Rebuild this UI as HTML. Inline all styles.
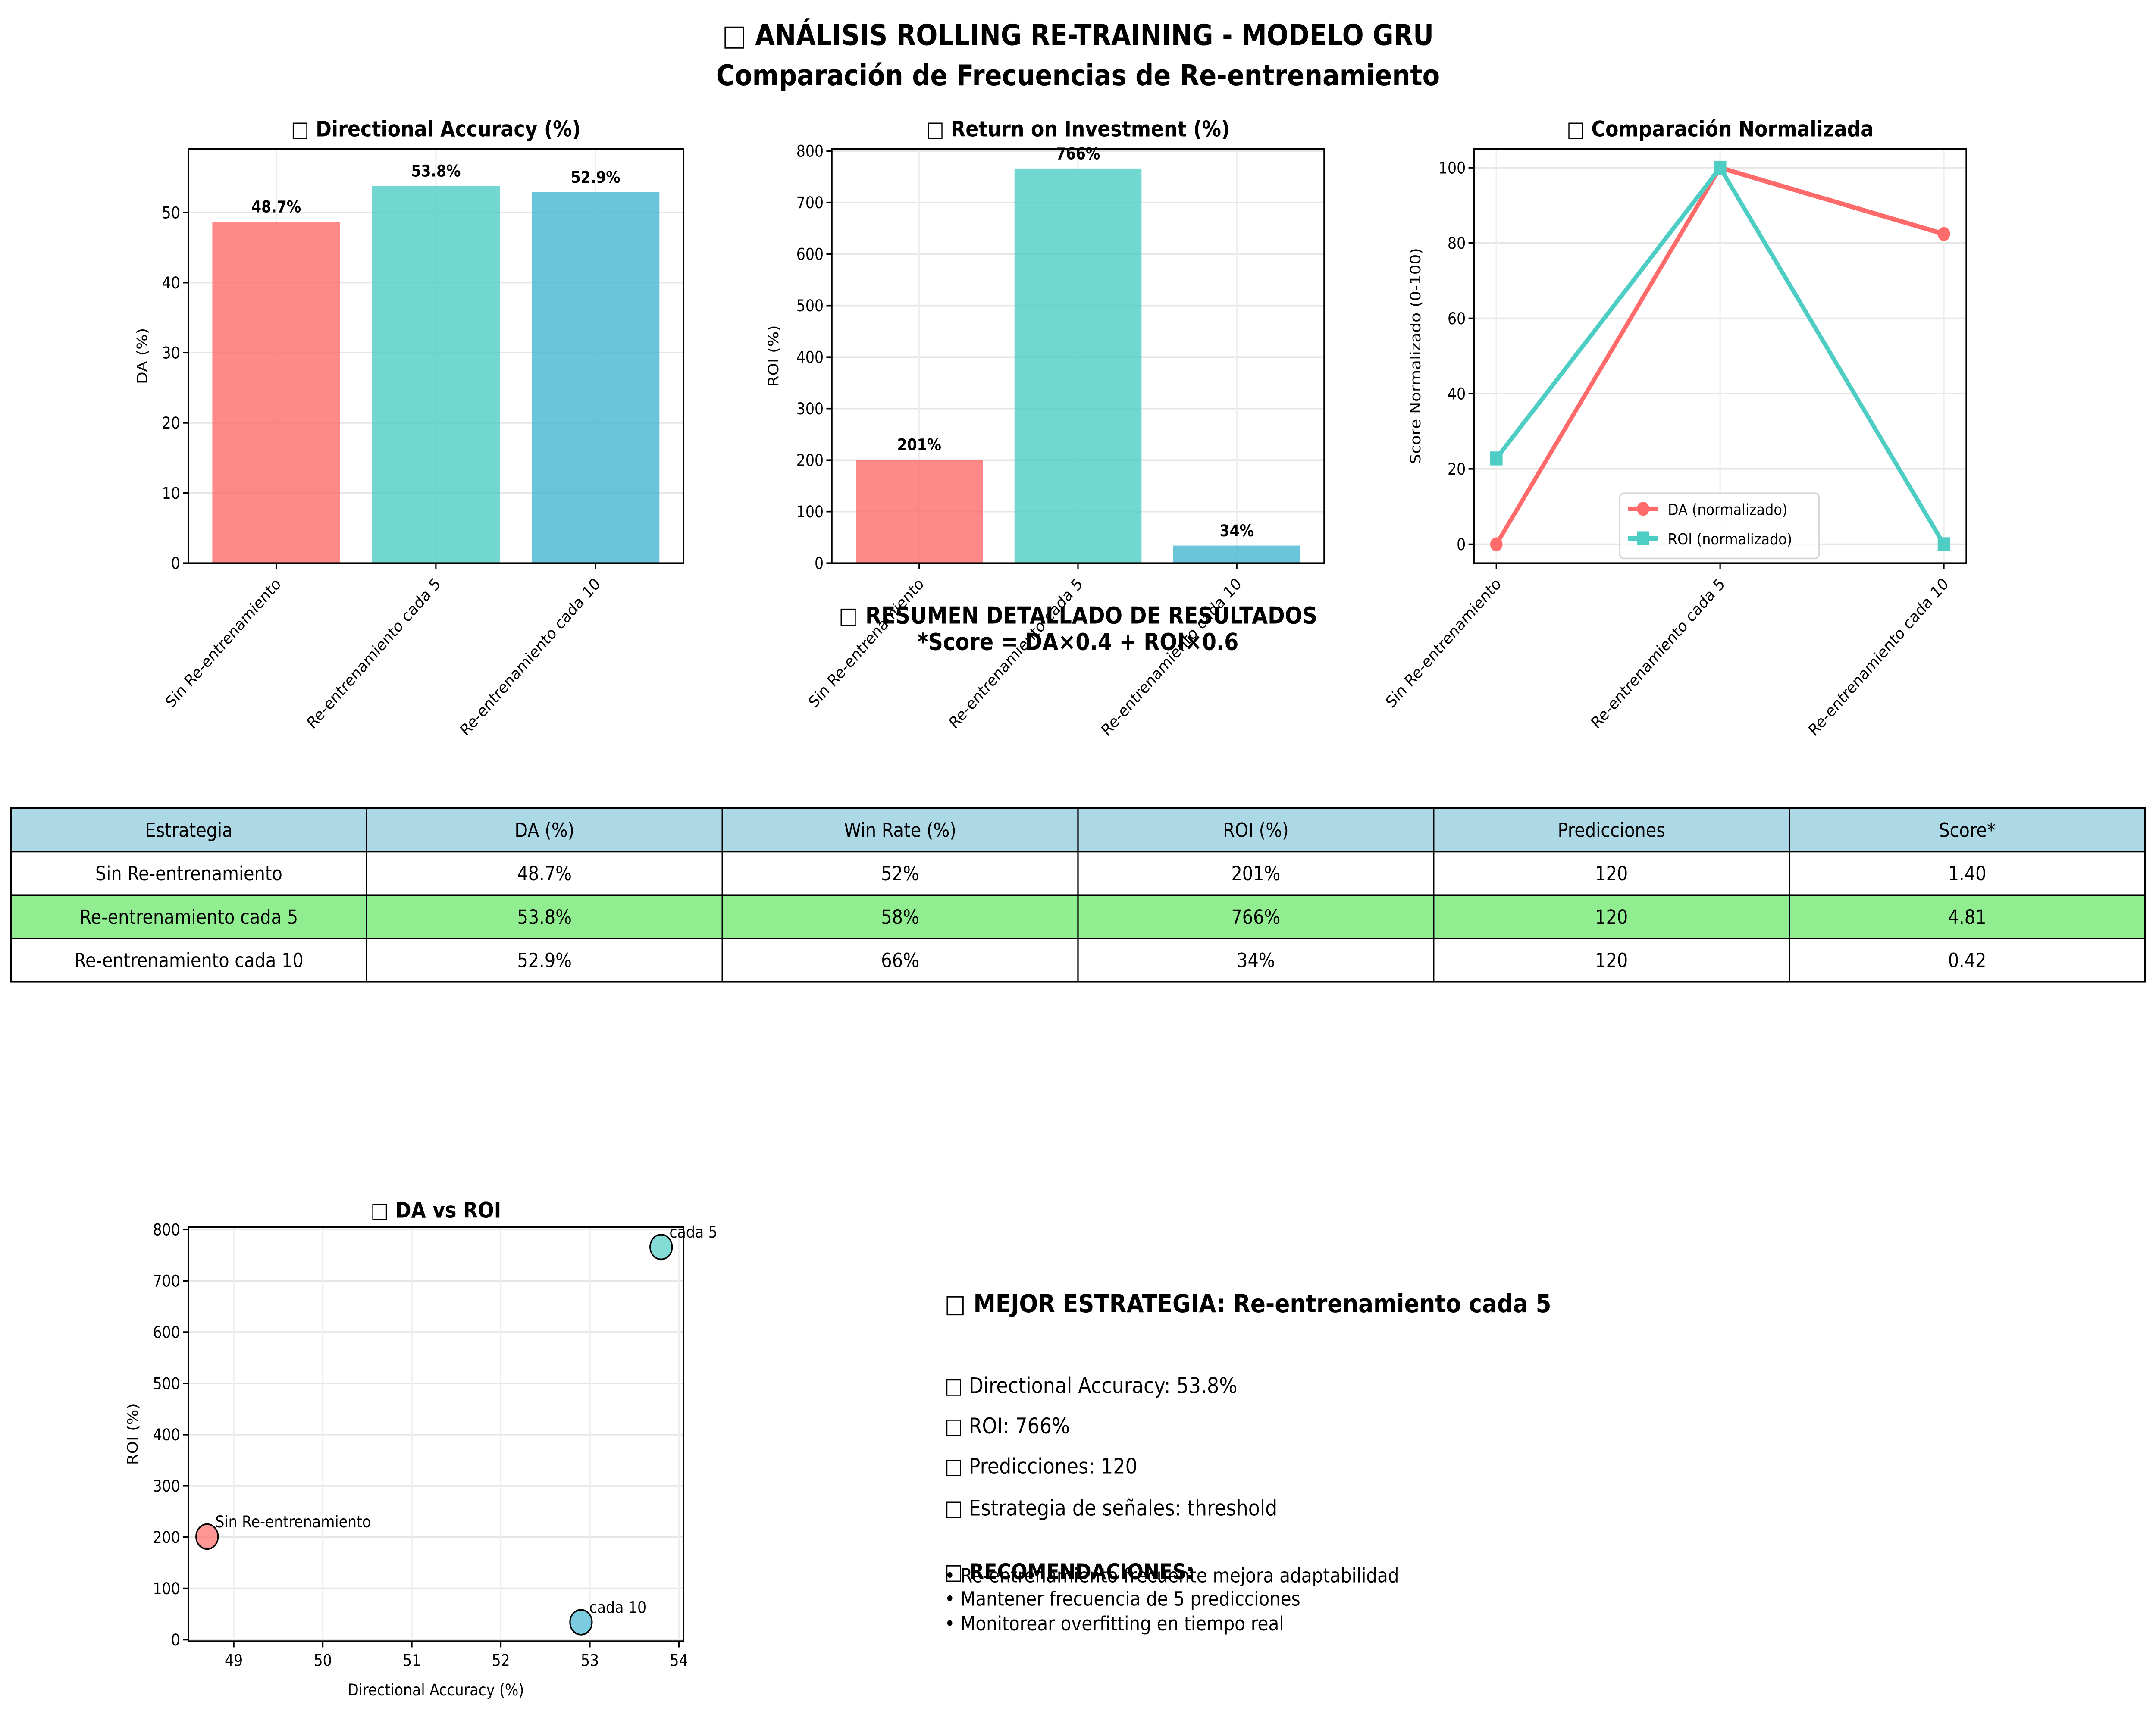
<!DOCTYPE html>
<html><head><meta charset="utf-8"><style>
html,body{margin:0;padding:0;background:#fff;width:100vw;height:100vh;overflow:hidden;}
#wrap{position:fixed;left:0;top:0;width:100vw;height:100vh;overflow:hidden;}
svg{display:block;position:absolute;left:0;top:0;width:100vw;height:100vh;font-family:"DejaVu Sans","Liberation Sans",sans-serif;}
</style></head><body>
<div id="wrap">
<svg id="fig" viewBox="0 0 1568 1103" preserveAspectRatio="none" xmlns="http://www.w3.org/2000/svg">
<rect width="1568" height="1103" fill="#fff"/>
<text x="784" y="29" text-anchor="middle" font-size="18.5" font-weight="bold">□ ANÁLISIS ROLLING RE-TRAINING - MODELO GRU</text>
<text x="784" y="55" text-anchor="middle" font-size="18.5" font-weight="bold">Comparación de Frecuencias de Re-entrenamiento</text>
<g id="c1"></g>
<g id="c2"></g>
<g id="c3"></g>
<g id="tbl"></g>
<g id="c4"></g>
<g>
<text x="687" y="846" font-size="16.2" font-weight="bold">□ MEJOR ESTRATEGIA: Re-entrenamiento cada 5</text>
<text x="687" y="898" font-size="13.9">□ Directional Accuracy: 53.8%</text>
<text x="687" y="924" font-size="13.9">□ ROI: 766%</text>
<text x="687" y="950" font-size="13.9">□ Predicciones: 120</text>
<text x="687" y="977" font-size="13.9">□ Estrategia de señales: threshold</text>
<text x="687" y="1018" font-size="13.9" font-weight="bold">□ RECOMENDACIONES:</text>
<text x="687" y="1020" font-size="12.7">• Re-entrenamiento frecuente mejora adaptabilidad</text>
<text x="687" y="1035" font-size="12.7">• Mantener frecuencia de 5 predicciones</text>
<text x="687" y="1051" font-size="12.7">• Monitorear overfitting en tiempo real</text>
</g>
</svg>
</div>
<script>
const categories=["Sin Re-entrenamiento","Re-entrenamiento cada 5","Re-entrenamiento cada 10"];
const daValues=[48.7,53.8,52.9];
const roiValues=[201,766,34];
const daNorm=[0,100,82.4];
const roiNorm=[22.8,100,0];
const winRates=["52%","58%","66%"];
const predictions=[120,120,120];
const scores=["1.40","4.81","0.42"];
const daLabels=["48.7%","53.8%","52.9%"];
const roiLabels=["201%","766%","34%"];
const scatterLabels=["Sin Re-entrenamiento","cada 5","cada 10"];
const daTicks=[0,10,20,30,40,50];
const roiTicks=[0,100,200,300,400,500,600,700,800];
const normTicks=[0,20,40,60,80,100];
const scatterXTicks=[48,49,50,51,52,53,54];
const colors=["#ff6b6b","#4ecdc4","#45b7d1"];
const NS="http://www.w3.org/2000/svg";
const FT=10.4;
function mk(p,t,a){const e=document.createElementNS(NS,t);for(const k in a)e.setAttribute(k,a[k]);p.appendChild(e);return e;}
function txt(p,x,y,s,a){const e=mk(p,'text',Object.assign({x:x,y:y},a||{}));e.textContent=s;return e;}
function axes(g,L,T,R,B,title,ylabel,ylx){
  const t=txt(g,(L+R)/2,88,title,{'text-anchor':'middle','font-size':13.9,'font-weight':'bold'});
  
  const yl=txt(g,ylx,(T+B)/2,ylabel,{'text-anchor':'middle','font-size':FT,transform:`rotate(-90 ${ylx} ${(T+B)/2})`});
  
}
function frame(g,L,T,R,B){const r=mk(g,'rect',{x:L,y:T,width:R-L,height:B-T,fill:'none',stroke:'#000','stroke-width':1});}
function yTicks(g,L,R,ticks,ys){ticks.forEach(v=>{const y=ys(v);mk(g,'line',{x1:L,x2:R,y1:y,y2:y,stroke:'#e6e6e6','stroke-width':1});mk(g,'line',{x1:L-4,x2:L,y1:y,y2:y,stroke:'#000'});const t=txt(g,L-6,y+3.7,String(v),{'text-anchor':'end','font-size':FT});});}
function xCatTicks(g,B,T,xs){categories.forEach((c,i)=>{const x=xs(i);mk(g,'line',{x1:x,x2:x,y1:T,y2:B,stroke:'#eeeeee'});mk(g,'line',{x1:x,x2:x,y1:B,y2:B+4,stroke:'#000'});const t=txt(g,x+4,B+14,c,{'text-anchor':'end','font-size':FT,transform:`rotate(-45 ${x+4} ${B+14})`});});}
function barChart(id,L,R,vals,labels,ticks,ymax,title,ylabel,ylx){
  const g=document.getElementById(id);const T=96,B=363;
  const ys=v=>B-(v/ymax)*(B-T);const step=(R-L)/3.1;const xs=i=>L+step*(0.55+i);
  axes(g,L,T,R,B,title,ylabel,ylx);yTicks(g,L,R,ticks,ys);xCatTicks(g,B,T,xs);
  vals.forEach((v,i)=>{const bw=step*0.8;const r=mk(g,'rect',{x:xs(i)-bw/2,y:ys(v),width:bw,height:B-ys(v),fill:colors[i],'fill-opacity':0.8});
    const t=txt(g,xs(i),ys(v)-6,labels[i],{'text-anchor':'middle','font-size':FT,'font-weight':'bold'});});
  frame(g,L,T,R,B);
}
barChart('c1',137,497,daValues,daLabels,daTicks,59.07,'□ Directional Accuracy (%)','DA (%)',107);
barChart('c2',605,963,roiValues,roiLabels,roiTicks,804,'□ Return on Investment (%)','ROI (%)',566);
(function(){const g=document.getElementById('c3');const L=1072,R=1430,T=96,B=363;
 const ys=v=>B-((v+5)/110)*(B-T);const step=(R-L)/2.2;const xs=i=>L+step*(0.1+i);
 axes(g,L,T,R,B,'□ Comparación Normalizada','Score Normalizado (0-100)',1033);yTicks(g,L,R,normTicks,ys);xCatTicks(g,B,T,xs);
 const p1=mk(g,'polyline',{points:daNorm.map((v,i)=>xs(i)+','+ys(v)).join(' '),fill:'none',stroke:'#ff6b6b','stroke-width':3});
 const p2=mk(g,'polyline',{points:roiNorm.map((v,i)=>xs(i)+','+ys(v)).join(' '),fill:'none',stroke:'#4ecdc4','stroke-width':3});
 daNorm.forEach((v,i)=>{const c=mk(g,'circle',{cx:xs(i),cy:ys(v),r:4.5,fill:'#ff6b6b'});});
 roiNorm.forEach((v,i)=>{const c=mk(g,'rect',{x:xs(i)-4.5,y:ys(v)-4.5,width:9,height:9,fill:'#4ecdc4'});});
 const lg=mk(g,'g',{});
 mk(lg,'rect',{x:1178,y:318,width:145,height:42,rx:3,fill:'#fff','fill-opacity':0.8,stroke:'#d5d5d5'});
 mk(lg,'line',{x1:1184,x2:1206,y1:328,y2:328,stroke:'#ff6b6b','stroke-width':3});mk(lg,'circle',{cx:1195,cy:328,r:4.5,fill:'#ff6b6b'});
 let t=txt(lg,1213,332,'DA (normalizado)',{'font-size':10});
 mk(lg,'line',{x1:1184,x2:1206,y1:347,y2:347,stroke:'#4ecdc4','stroke-width':3});mk(lg,'rect',{x:1190.5,y:342.5,width:9,height:9,fill:'#4ecdc4'});
 t=txt(lg,1213,351,'ROI (normalizado)',{'font-size':10});
 frame(g,L,T,R,B);})();
(function(){const g=document.getElementById('tbl');
 let t=txt(g,784,402,'□ RESUMEN DETALLADO DE RESULTADOS',{'text-anchor':'middle','font-size':15,'font-weight':'bold'});
 t=txt(g,784,419,'*Score = DA×0.4 + ROI×0.6',{'text-anchor':'middle','font-size':15,'font-weight':'bold'});
 const header=["Estrategia","DA (%)","Win Rate (%)","ROI (%)","Predicciones","Score*"];
 const rows=[header].concat(categories.map((c,i)=>[c,daValues[i].toFixed(1)+'%',winRates[i],roiValues[i]+'%',String(predictions[i]),scores[i]]));
 const L=8,W=1552,T=521,H=28,cw=W/6;const fills=['#add8e6','#fff','#90ee90','#fff'];
 rows.forEach((r,ri)=>r.forEach((c,ci)=>{mk(g,'rect',{x:L+ci*cw,y:T+ri*H,width:cw,height:H,fill:fills[ri],stroke:'#000','stroke-width':1});
  const e=txt(g,L+ci*cw+cw/2,T+ri*H+18.5,c,{'text-anchor':'middle','font-size':12.5});}));
})();
(function(){const g=document.getElementById('c4');const L=137,R=497,T=791,B=1058;
 const xmin=48.49,xmax=54.05,ymin=-3,ymax=805;
 const xs=v=>L+(v-xmin)/(xmax-xmin)*(R-L);const ys=v=>B-(v-ymin)/(ymax-ymin)*(B-T);
 let t=txt(g,(L+R)/2,785,'□ DA vs ROI',{'text-anchor':'middle','font-size':13.9,'font-weight':'bold'});
 t=txt(g,100,(T+B)/2,'ROI (%)',{'text-anchor':'middle','font-size':FT,transform:`rotate(-90 100 ${(T+B)/2})`});
 t=txt(g,(L+R)/2,1093,'Directional Accuracy (%)',{'text-anchor':'middle','font-size':FT});
 yTicks(g,L,R,roiTicks,ys);
 scatterXTicks.forEach(v=>{const x=xs(v);if(x<L||x>R)return;mk(g,'line',{x1:x,x2:x,y1:T,y2:B,stroke:'#eeeeee'});mk(g,'line',{x1:x,x2:x,y1:B,y2:B+4,stroke:'#000'});const e=txt(g,x,B+16,String(v),{'text-anchor':'middle','font-size':FT});});
 daValues.forEach((v,i)=>{const c=mk(g,'circle',{cx:xs(v),cy:ys(roiValues[i]),r:8,fill:colors[i],'fill-opacity':0.7,stroke:'#000','stroke-width':1});
  const e=txt(g,xs(v)+6,ys(roiValues[i])-6,scatterLabels[i],{'font-size':FT});});
 frame(g,L,T,R,B);})();
</script>
</body></html>
